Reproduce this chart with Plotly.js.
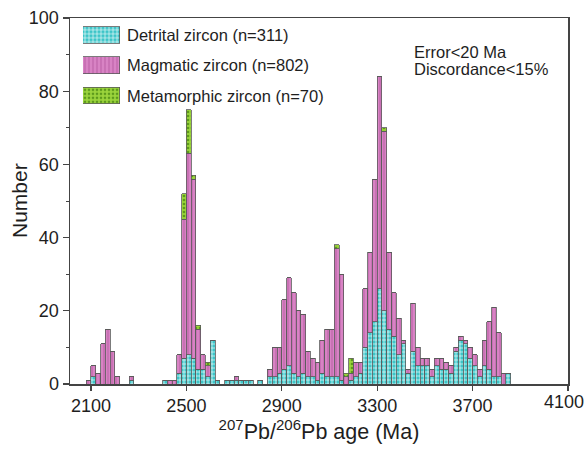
<!DOCTYPE html>
<html>
<head>
<meta charset="utf-8">
<script src="https://cdn.plot.ly/plotly-3.0.1.min.js"></script>
<style>
html,body{margin:0;padding:0;background:#ffffff;}
#chart{width:586px;height:449px;}
</style>
</head>
<body>
<div id="chart"></div>
<script>
// ---- data (20 Ma bins, left edge in Ma) ----
const binStart = [2080,2100,2120,2140,2160,2180,2200,2260,
  2400,2420,2440,2460,2480,2500,2520,2540,2560,2580,2600,2620,
  2660,2680,2700,2720,2740,2760,2800,
  2840,2860,2880,2900,2920,2940,2960,2980,3000,3020,3040,3060,3080,3100,3120,3140,
  3160,3180,3200,3220,3240,3260,3280,3300,3320,3340,3360,3380,
  3400,3420,3440,3460,3480,3500,3520,3540,3560,3580,3600,3620,3640,3660,3680,3700,
  3720,3740,3760,3780,3800,3820,3840];
const detrital = [0,2,0,0,0,0,0,1,
  1,0,0,3,7,8,7,4,4,2,12,1,
  1,1,1,1,1,1,1,
  2,2,3,4,5,3,2,3,2,2,1,3,2,2,2,1,
  0,1,2,3,10,14,17,26,20,15,13,8,
  11,3,9,5,5,5,2,5,4,4,3,9,12,11,7,5,
  2,5,4,2,2,0,3];
const magmatic = [1,3,3,11,15,9,2,1,
  0,1,1,5,38,55,49,11,4,3,0,0,
  0,0,1,0,0,0,0,
  2,8,7,19,24,22,18,16,7,5,5,9,13,13,35,29,
  2,2,4,3,16,22,39,58,49,21,12,10,
  1,1,13,5,2,2,2,2,3,2,2,1,1,1,3,3,
  2,7,13,19,12,3,0];
const metamorphic = [0,0,0,0,0,0,0,0,
  0,0,0,0,7,12,1,1,0,1,0,0,
  0,0,0,0,0,0,0,
  0,0,0,0,0,0,0,0,0,0,0,0,0,0,1,0,
  1,4,0,0,0,0,0,0,1,0,0,0,
  0,0,0,0,0,0,0,0,0,0,0,0,0,0,0,0,
  0,0,0,0,0,0,0];
const binWidth = 20;
const seriesNames = ['Detrital zircon (n=311)','Magmatic zircon (n=802)','Metamorphic zircon (n=70)'];
const xTickVals = [2100,2500,2900,3300,3700,4100];
const yTickVals = [0,20,40,60,80,100];
const noteLines = ['Error&lt;20 Ma','Discordance&lt;15%'];
const yTitle = 'Number';
const xTitle = '<sup>207</sup>Pb/<sup>206</sup>Pb age (Ma)';

// ---- styles ----
const FONT = 'Liberation Sans, Arial, sans-serif';
const TXT = '#1e1e1e';
const outline = {color:'#5a5a5a', width:0.8};
const styles = [
  {bg:'#3dc5c8', fg:'#ffffff', shape:'+', size:4, solidity:0.28},
  {bg:'#d883c4', fg:'#b65aa0', shape:'|', size:4, solidity:0.22},
  {bg:'#9bd43c', fg:'#5d9a1c', shape:'.', size:4, solidity:0.35}
];
const seriesData = [detrital, magmatic, metamorphic];
const centers = binStart.map(b => b + binWidth/2);

const traces = seriesData.map((vals,i) => ({
  type:'bar', x:centers, y:vals, width:binWidth,
  name:seriesNames[i], showlegend:false, hoverinfo:'skip',
  marker:{color:styles[i].bg, line:outline,
    pattern:{shape:styles[i].shape, bgcolor:styles[i].bg, fgcolor:styles[i].fg,
             size:styles[i].size, solidity:styles[i].solidity, fillmode:'replace'}},
  xaxis:'x', yaxis:'y'
}));

// legend swatches drawn as bars on a hidden inset axis
const swatchRow = [2,1,0];
seriesData.forEach((v,i) => {
  traces.push({
    type:'bar', orientation:'h', y:[swatchRow[i]], x:[1], width:0.55,
    showlegend:false, hoverinfo:'skip',
    marker:{color:styles[i].bg, line:outline,
      pattern:{shape:styles[i].shape, bgcolor:styles[i].bg, fgcolor:styles[i].fg,
               size:styles[i].size, solidity:styles[i].solidity, fillmode:'replace'}},
    xaxis:'x2', yaxis:'y2'
  });
});

const legendY = [0.9527, 0.8724, 0.7877];
const annotations = seriesNames.map((t,i) => ({
  xref:'paper', yref:'paper', x:0.1104, y:legendY[i], xanchor:'left', yanchor:'middle',
  text:t, showarrow:false, font:{family:FONT, size:16.5, color:TXT}
}));
const noteY = [0.906, 0.861];
noteLines.forEach((t,i) => annotations.push({
  xref:'paper', yref:'paper', x:0.6868, y:noteY[i], xanchor:'left', yanchor:'middle',
  text:t, showarrow:false, font:{family:FONT, size:16.5, color:TXT}
}));
annotations.push({
  xref:'paper', yref:'paper', x:-0.1024, y:0.5, xanchor:'center', yanchor:'middle',
  text:yTitle, textangle:-90, showarrow:false, font:{family:FONT, size:21, color:TXT}
});
// last x tick label drawn nudged left so it stays inside the page (as in the reference)
const lastTick = xTickVals[xTickVals.length-1];
annotations.push({
  xref:'x', yref:'paper', x:lastTick, y:0, xanchor:'right', yanchor:'top',
  xshift:18, yshift:-6, text:String(lastTick), showarrow:false,
  font:{family:FONT, size:18, color:TXT}
});
const xTickText = xTickVals.map(v => v === lastTick ? '' : String(v));

const layout = {
  width:586, height:449,
  margin:{l:70, r:18, t:18, b:65, pad:0},
  paper_bgcolor:'#ffffff', plot_bgcolor:'rgba(0,0,0,0)',
  barmode:'stack', bargap:0,
  font:{family:FONT, color:TXT, size:18},
  showlegend:false,
  xaxis:{
    range:[2012,4100], tickvals:xTickVals, ticktext:xTickText,
    ticks:'outside', ticklen:5, tickwidth:1.2, tickcolor:'#444',
    showline:true, linecolor:'#444', linewidth:1.5, mirror:true,
    showgrid:false, zeroline:false, fixedrange:true, automargin:false,
    tickfont:{family:FONT, size:18, color:TXT},
    title:{text:xTitle, font:{family:FONT, size:21.5, color:TXT}, standoff:8}
  },
  yaxis:{
    range:[0,100], tickvals:yTickVals, ticktext:yTickVals.map(String),
    ticks:'outside', ticklen:6, tickwidth:1.2, tickcolor:'#444',
    minor:{tickvals:[10,30,50,70,90], ticks:'outside', ticklen:3, tickcolor:'#444', tickwidth:1},
    showline:true, linecolor:'#444', linewidth:1.5, mirror:true,
    showgrid:false, zeroline:false, fixedrange:true, automargin:false,
    tickfont:{family:FONT, size:18, color:TXT}
  },
  xaxis2:{domain:[0.0261,0.1004], range:[0,1], visible:false, anchor:'y2', fixedrange:true},
  yaxis2:{domain:[0.747,0.995], range:[-0.5,2.5], visible:false, anchor:'x2', fixedrange:true},
  annotations:annotations
};

Plotly.newPlot('chart', traces, layout, {staticPlot:true, displayModeBar:false});
</script>
</body>
</html>
